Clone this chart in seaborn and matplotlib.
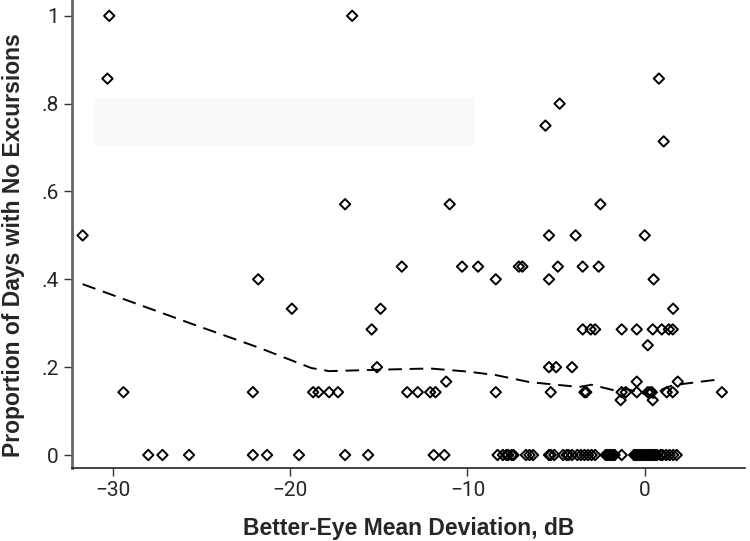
import numpy as np
import pandas as pd
import matplotlib.pyplot as plt
import seaborn as sns
from matplotlib import font_manager
from matplotlib.patches import Rectangle

# scatter points (x = better-eye MD in dB, y = proportion)
md_upper = [-31.7, -30.2, -30.3, -29.4, -22.1, -21.8, -19.9, -18.7, -18.4, -17.8, -17.3,
            -16.9, -16.5, -15.4, -15.1, -14.9, -13.7, -13.4, -12.8, -12.1, -11.8, -11.2,
            -11.0, -10.3, -9.4, -8.4, -8.4, -7.1, -6.9, -5.6, -5.4, -5.4, -5.4, -5.3,
            -5.0, -4.9, -4.8, -4.1, -3.9, -3.5, -3.5, -3.4, -3.3, -3.05, -2.8, -2.6,
            -2.5, -1.36, -1.3, -1.3, -1.07, -0.45, -0.45, -0.45, 0.0, 0.17, 0.17, 0.3,
            0.4, 0.45, 0.45, 0.5, 0.8, 0.96, 1.07, 1.24, 1.36, 1.58, 1.58, 1.6, 1.86, 4.35]
prop_upper = [0.5, 1.0, 0.857, 0.143, 0.143, 0.4, 0.333, 0.143, 0.143, 0.143, 0.143,
              0.571, 1.0, 0.286, 0.2, 0.333, 0.429, 0.143, 0.143, 0.143, 0.143, 0.167,
              0.571, 0.429, 0.429, 0.4, 0.143, 0.429, 0.429, 0.75, 0.5, 0.4, 0.2, 0.143,
              0.2, 0.429, 0.8, 0.2, 0.5, 0.429, 0.286, 0.143, 0.143, 0.286, 0.286, 0.429,
              0.571, 0.125, 0.286, 0.143, 0.143, 0.286, 0.143, 0.167, 0.5, 0.25, 0.143, 0.143,
              0.143, 0.286, 0.125, 0.4, 0.857, 0.286, 0.714, 0.143, 0.286, 0.286, 0.143, 0.333,
              0.167, 0.143]
md_zero = [-28.0, -27.2, -25.7, -22.1, -21.3, -19.5, -16.9, -15.6, -11.9, -11.3,
           -8.3, -8.0, -7.8, -7.7, -7.5, -7.4, -6.7, -6.5, -6.3, -5.4, -5.3, -5.1,
           -4.6, -4.4, -4.3, -4.1, -3.8, -3.6, -3.4, -3.2, -3.0, -2.8, -2.2, -2.1,
           -2.0, -1.9, -1.8, -1.7, -1.3, -0.6, -0.5, -0.4, -0.3, -0.2, -0.1, 0.0,
           0.1, 0.2, 0.3, 0.4, 0.5, 0.6, 0.7, 0.9, 1.0, 1.2, 1.4, 1.6, 1.8]

# smoothed trend (dashed)
trend_x = [-31.7, -25.5, -21.8, -18.8, -17.8, -14.2, -12.1, -10.0, -8.4, -6.5, -5.0,
           -3.7, -3.0, -1.8, -1.0, 0.1, 0.5, 1.0, 1.6, 4.35]
trend_y = [0.389, 0.298, 0.245, 0.198, 0.191, 0.195, 0.197, 0.19, 0.182, 0.166, 0.16,
           0.155, 0.16, 0.148, 0.15, 0.138, 0.13, 0.15, 0.159, 0.173]

yticks = [0, 0.2, 0.4, 0.6, 0.8, 1.0]
ytick_labels = ["0", ".2", ".4", ".6", ".8", "1"]
xticks = [-30, -20, -10, 0]
xtick_labels = ["\u221230", "\u221220", "\u221210", "0"]

pts = pd.DataFrame({"md": md_upper + md_zero,
                    "prop": prop_upper + [0.0] * len(md_zero)})
trend = pd.DataFrame({"md": trend_x, "prop": trend_y})

sns.set_style("white")
installed = {f.name for f in font_manager.fontManager.ttflist}
tick_font = "Liberation Sans Narrow" if "Liberation Sans Narrow" in installed else "Roboto"
plt.rcParams["font.family"] = [tick_font, "DejaVu Sans"]

fig = plt.figure(figsize=(7.5, 5.41), dpi=100)
ax = fig.add_axes([0.096, 0.135, 0.897, 0.865])

# faint leftover box in the reference
ax.add_patch(Rectangle((-31.0, 0.705), 21.4, 0.109, color="#f9f9f9", lw=0, zorder=0))

sns.lineplot(data=trend, x="md", y="prop", ax=ax, color="black", lw=1.4,
             linestyle=(0, (7, 4)), sort=False)
sns.scatterplot(data=pts, x="md", y="prop", ax=ax, marker="D", s=28,
                facecolor="none", edgecolor="black", linewidth=1.4, zorder=3)

ax.set_xlim(-32.3, 5.64)
ax.set_ylim(-0.0295, 1.036)
ax.set_yticks(yticks)
ax.set_yticklabels(ytick_labels)
ax.set_xticks(xticks)
ax.set_xticklabels(xtick_labels)
ax.tick_params(axis="both", direction="out", length=6, width=1, labelsize=15,
               color="#333333", bottom=True, left=True)
for side in ["top", "right"]:
    ax.spines[side].set_visible(False)
ax.spines["left"].set_color("#666666")
ax.spines["left"].set_linewidth(2)
ax.spines["bottom"].set_color("#222222")
ax.spines["bottom"].set_linewidth(1.2)

label_font = ["Liberation Sans", "DejaVu Sans"]
ax.set_xlabel("Better-Eye Mean Deviation, dB", fontsize=16.5, fontweight="bold",
              family=label_font, labelpad=12)
ax.set_ylabel("Proportion of Days with No Excursions", fontsize=16.5, fontweight="bold",
              family=label_font)
ax.yaxis.set_label_coords(-0.07, 0.476)

plt.savefig("out.png", dpi=100)
